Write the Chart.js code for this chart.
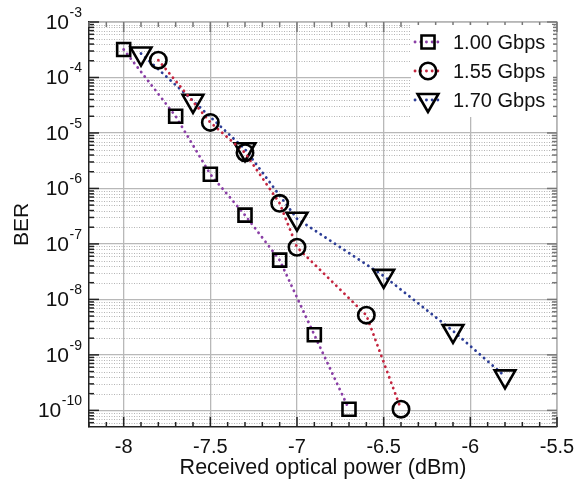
<!DOCTYPE html>
<html>
<head>
<meta charset="utf-8">
<script src="https://cdn.jsdelivr.net/npm/chart.js@4"></script>
<style>
    body { margin: 0; background: #fff; }
    #wrap { width: 587px; height: 487px; }
</style>
</head>
<body>
<div id="wrap"><canvas id="berChart" width="587" height="487"></canvas></div>
<script>
// received optical power (dBm) and measured BER per data rate
const power100 = [-8, -7.7, -7.5, -7.3, -7.1, -6.9, -6.7];
const ber100 = [3.2e-4, 2.0e-5, 1.8e-6, 3.3e-7, 5.1e-8, 2.3e-9, 1.05e-10];

const power155 = [-7.8, -7.5, -7.3, -7.1, -7.0, -6.6, -6.4];
const ber155 = [2.05e-4, 1.55e-5, 4.4e-6, 5.4e-7, 8.7e-8, 5.2e-9, 1.05e-10];

const power170 = [-7.9, -7.6, -7.3, -7.0, -6.5, -6.1, -5.8];
const ber170 = [2.7e-4, 3.8e-5, 5.1e-6, 2.85e-7, 2.65e-8, 2.7e-9, 4.1e-10];

const seriesNames = ["1.00 Gbps", "1.55 Gbps", "1.70 Gbps"];
const xTicks = [-8, -7.5, -7, -6.5, -6, -5.5];
const yDecades = [-10, -9, -8, -7, -6, -5, -4, -3];

const FONT = "'Liberation Sans', Arial, Helvetica, sans-serif";
const lineColors = ["#8a3fa6", "#c4253f", "#2c3d96"];
const markers = [
    { style: "rect", radius: 9.2, rotation: 0 },
    { style: "circle", radius: 8.2, rotation: 0 },
    { style: "triangle", radius: 12, rotation: 180 }
];

function toPoints(xs, ys) {
    return xs.map((x, i) => ({ x: x, y: ys[i] }));
}

function makeDataset(i, xs, ys) {
    return {
        label: seriesNames[i],
        data: toPoints(xs, ys),
        borderColor: lineColors[i],
        borderWidth: 2.8,
        borderDash: [0.1, 5.6],
        borderCapStyle: "round",
        pointStyle: markers[i].style,
        pointRadius: markers[i].radius,
        pointRotation: markers[i].rotation,
        pointBorderColor: "#000",
        pointBorderWidth: 2.6,
        pointBackgroundColor: "rgba(0,0,0,0)",
        fill: false,
        tension: 0
    };
}

function drawMarker(ctx, style, x, y, r, rotation) {
    ctx.beginPath();
    if (style === "rect") {
        const s = Math.SQRT1_2 * r;
        ctx.rect(x - s, y - s, 2 * s, 2 * s);
    } else if (style === "circle") {
        ctx.arc(x, y, r, 0, Math.PI * 2);
    } else {
        let rad = rotation * Math.PI / 180;
        ctx.moveTo(x + Math.sin(rad) * r, y - Math.cos(rad) * r);
        rad += Math.PI * 2 / 3;
        ctx.lineTo(x + Math.sin(rad) * r, y - Math.cos(rad) * r);
        rad += Math.PI * 2 / 3;
        ctx.lineTo(x + Math.sin(rad) * r, y - Math.cos(rad) * r);
        ctx.closePath();
    }
    ctx.stroke();
}

const decorPlugin = {
    id: "decor",
    beforeDatasetsDraw(chart) {
        const ctx = chart.ctx;
        const area = chart.chartArea;
        const ys = chart.scales.y;
        ctx.save();
        ctx.strokeStyle = "#b4b4b4";
        ctx.lineWidth = 1;
        ctx.setLineDash([1, 1.5]);
        for (let d = -11; d <= -4; d++) {
            for (let m = 2; m <= 9; m++) {
                const v = m * Math.pow(10, d);
                if (v < ys.min || v > ys.max) continue;
                const py = Math.round(ys.getPixelForValue(v)) + 0.5;
                ctx.beginPath();
                ctx.moveTo(area.left, py);
                ctx.lineTo(area.right, py);
                ctx.stroke();
            }
        }
        ctx.restore();
    },
    afterDatasetsDraw(chart) {
        const ctx = chart.ctx;
        const area = chart.chartArea;
        const xs = chart.scales.x;
        const ys = chart.scales.y;
        ctx.save();

        // top and right frame
        ctx.strokeStyle = "#b5b5b5";
        ctx.lineWidth = 1.5;
        ctx.beginPath();
        ctx.moveTo(area.left, area.top);
        ctx.lineTo(area.right, area.top);
        ctx.lineTo(area.right, area.bottom);
        ctx.stroke();

        // inward ticks on the log axis
        ctx.lineWidth = 1.5;
        for (let d = -11; d <= -3; d++) {
            for (let m = 1; m <= 9; m++) {
                const v = m * Math.pow(10, d);
                if (v < ys.min || v > ys.max) continue;
                const py = ys.getPixelForValue(v);
                const len = m === 1 ? 10 : 5;
                ctx.strokeStyle = "#222";
                ctx.beginPath();
                ctx.moveTo(area.left, py);
                ctx.lineTo(area.left + len, py);
                ctx.stroke();
                ctx.strokeStyle = "#777";
                ctx.beginPath();
                ctx.moveTo(area.right, py);
                ctx.lineTo(area.right - len, py);
                ctx.stroke();
            }
        }
        // inward ticks on the power axis, every 0.1 dBm
        for (let k = -82; k <= -55; k++) {
            const v = k / 10;
            const px = xs.getPixelForValue(v);
            const len = k % 5 === 0 ? 10 : 5;
            ctx.strokeStyle = "#222";
            ctx.beginPath();
            ctx.moveTo(px, area.bottom);
            ctx.lineTo(px, area.bottom - len);
            ctx.stroke();
            ctx.strokeStyle = "#777";
            ctx.beginPath();
            ctx.moveTo(px, area.top);
            ctx.lineTo(px, area.top + len);
            ctx.stroke();
        }

        // y tick labels as 10 with a raised exponent
        ctx.fillStyle = "#111";
        ctx.textBaseline = "middle";
        const labelRight = area.left - 7;
        yDecades.forEach(d => {
            const py = ys.getPixelForValue(Math.pow(10, d));
            const expText = String(d);
            ctx.font = "14px " + FONT;
            const ew = ctx.measureText(expText).width;
            ctx.textAlign = "left";
            ctx.fillText(expText, labelRight - ew, py - 9);
            ctx.font = "21px " + FONT;
            ctx.textAlign = "right";
            ctx.fillText("10", labelRight - ew - 0.5, py + 1);
        });

        // legend box inside the plot
        const boxLeft = area.right - 146;
        const boxTop = area.top + 3;
        ctx.fillStyle = "#fff";
        ctx.fillRect(boxLeft, boxTop, 142, 92);
        seriesNames.forEach((name, i) => {
            const cy = boxTop + 17 + i * 29;
            ctx.strokeStyle = lineColors[i];
            ctx.lineWidth = 2.8;
            ctx.lineCap = "round";
            ctx.setLineDash([0.1, 5.6]);
            ctx.beginPath();
            ctx.moveTo(boxLeft + 4, cy);
            ctx.lineTo(boxLeft + 30, cy);
            ctx.stroke();
            ctx.setLineDash([]);
            ctx.lineCap = "butt";
            ctx.lineWidth = 2.6;
            ctx.strokeStyle = "#000";
            drawMarker(ctx, markers[i].style, boxLeft + 17, cy, markers[i].radius, markers[i].rotation);
            ctx.fillStyle = "#111";
            ctx.font = "20px " + FONT;
            ctx.textAlign = "left";
            ctx.textBaseline = "middle";
            ctx.fillText(name, boxLeft + 42, cy + 1);
        });
        ctx.restore();
    }
};

new Chart(document.getElementById("berChart"), {
    type: "line",
    data: {
        datasets: [
            makeDataset(0, power100, ber100),
            makeDataset(1, power155, ber155),
            makeDataset(2, power170, ber170)
        ]
    },
    options: {
        responsive: false,
        animation: false,
        layout: { padding: { left: 0, top: 22, right: 30, bottom: 0 } },
        plugins: {
            legend: { display: false },
            tooltip: { enabled: false }
        },
        scales: {
            x: {
                type: "linear",
                min: -8.2,
                max: -5.5,
                afterBuildTicks: scale => {
                    scale.ticks = xTicks.map(v => ({ value: v }));
                },
                afterFit: scale => { scale.height = 60; },
                grid: { color: "#b8b8b8", lineWidth: 1.3, drawTicks: false },
                border: { color: "#222", width: 1.5 },
                ticks: {
                    color: "#111",
                    padding: 8,
                    font: { family: FONT, size: 20 },
                    callback: v => String(v)
                },
                title: {
                    display: true,
                    text: "Received optical power (dBm)",
                    color: "#111",
                    font: { family: FONT, size: 21.5 },
                    padding: { top: 0, bottom: 6 }
                }
            },
            y: {
                type: "logarithmic",
                min: Math.pow(10, -10.3),
                max: 1e-3,
                afterBuildTicks: scale => {
                    scale.ticks = yDecades.map(d => ({ value: Math.pow(10, d) }));
                },
                afterFit: scale => { scale.width = 89; },
                grid: { color: "#b8b8b8", lineWidth: 1.3, drawTicks: false },
                border: { color: "#222", width: 1.5 },
                ticks: { display: false },
                title: {
                    display: true,
                    text: "BER",
                    color: "#111",
                    font: { family: FONT, size: 21 },
                    padding: { top: 10, bottom: 0 }
                }
            }
        }
    },
    plugins: [decorPlugin]
});
</script>
</body>
</html>
